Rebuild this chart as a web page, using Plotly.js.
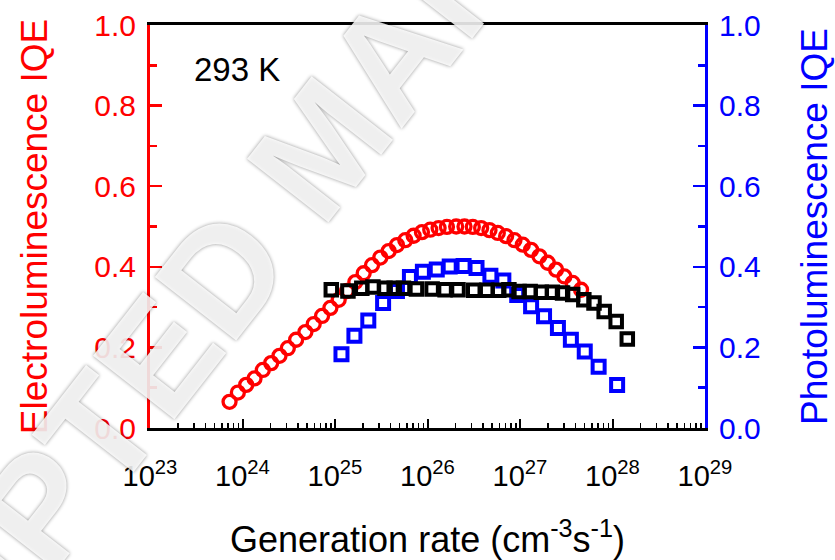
<!DOCTYPE html>
<html>
<head>
<meta charset="utf-8">
<script src="https://cdn.plot.ly/plotly-3.0.1.min.js"></script>
<style>
html,body{margin:0;padding:0;background:#fff;}
#chart{width:835px;height:560px;}
</style>
</head>
<body>
<div id="chart"></div>
<script>
// Electroluminescence IQE (red circles), log10 of generation rate
const elLogG = [23.86, 23.95, 24.04, 24.13, 24.22, 24.31, 24.40, 24.49, 24.58, 24.68,
                24.77, 24.86, 24.95, 25.04, 25.13, 25.22, 25.31, 25.40, 25.49, 25.58,
                25.67, 25.76, 25.85, 25.94, 26.03, 26.12, 26.21, 26.31, 26.40, 26.49,
                26.58, 26.67, 26.76, 26.85, 26.94, 27.03, 27.12, 27.21, 27.30, 27.39,
                27.48, 27.57, 27.66];
const elIQE = [0.065, 0.088, 0.107, 0.123, 0.144, 0.161, 0.179, 0.198, 0.219, 0.238,
               0.258, 0.278, 0.298, 0.318, 0.340, 0.362, 0.384, 0.404, 0.423, 0.439,
               0.454, 0.466, 0.477, 0.486, 0.492, 0.496, 0.499, 0.500, 0.500, 0.499,
               0.496, 0.491, 0.484, 0.476, 0.466, 0.455, 0.442, 0.426, 0.410, 0.393,
               0.376, 0.360, 0.343];

// Photoluminescence IQE (blue squares)
const plLogG = [25.07, 25.21, 25.36, 25.52, 25.67, 25.81, 25.95, 26.10, 26.24, 26.39,
                26.53, 26.68, 26.82, 26.97, 27.12, 27.26, 27.41, 27.55, 27.70, 27.85, 28.05];
const plIQE = [0.183, 0.229, 0.267, 0.310, 0.340, 0.375, 0.388, 0.393, 0.401, 0.402,
               0.397, 0.378, 0.366, 0.330, 0.302, 0.277, 0.248, 0.219, 0.190, 0.152, 0.107];

// Third series (black squares)
const blkLogG = [24.96, 25.14, 25.29, 25.41, 25.54, 25.64, 25.74, 25.88, 26.05, 26.19,
                 26.33, 26.50, 26.64, 26.77, 26.88, 26.99, 27.11, 27.23, 27.35, 27.46,
                 27.57, 27.69, 27.80, 27.91, 28.04, 28.16];
const blkIQE = [0.343, 0.340, 0.347, 0.350, 0.347, 0.347, 0.347, 0.345, 0.345, 0.343,
                0.343, 0.342, 0.342, 0.342, 0.343, 0.339, 0.339, 0.337, 0.337, 0.335,
                0.331, 0.318, 0.310, 0.289, 0.264, 0.221];

// Axis ticks
const decadeExps = [23, 24, 25, 26, 27, 28, 29];
const yTickVals = [0, 0.2, 0.4, 0.6, 0.8, 1.0];

const toG = a => a.map(e => Math.pow(10, e));
const FONT = 'Liberation Sans, Arial, sans-serif';

const majorX = decadeExps.map(e => Math.pow(10, e));
const majorXText = decadeExps.map(e => '10<sup>' + e + '</sup>');
const minorX = [];
decadeExps.slice(0, -1).forEach(e => { for (let k = 2; k <= 9; k++) minorX.push(k * Math.pow(10, e)); });

const traces = [
  { x: toG(elLogG), y: elIQE, type: 'scatter', mode: 'markers', yaxis: 'y',
    marker: { symbol: 'circle-open', size: 13, color: '#ff0000', line: { color: '#ff0000', width: 3.3 } },
    name: 'EL' },
  { x: toG(plLogG), y: plIQE, type: 'scatter', mode: 'markers', yaxis: 'y2',
    marker: { symbol: 'square-open', size: 12, color: '#0000ff', line: { color: '#0000ff', width: 4 } },
    name: 'PL' },
  { x: toG(blkLogG), y: blkIQE, type: 'scatter', mode: 'markers', yaxis: 'y2',
    marker: { symbol: 'square-open', size: 11.5, color: '#000000', line: { color: '#000000', width: 4 } },
    name: 'black' }
];

const layout = {
  width: 835, height: 560,
  margin: { l: 150, r: 130, t: 25, b: 132 },
  paper_bgcolor: '#fff', plot_bgcolor: '#fff',
  showlegend: false,
  font: { family: FONT, color: '#000' },
  xaxis: {
    type: 'log', range: [23, 29],
    tickmode: 'array', tickvals: majorX, ticktext: majorXText,
    ticks: 'inside', ticklen: 9, tickwidth: 2, tickcolor: '#000',
    minor: { tickmode: 'array', tickvals: minorX, ticks: 'inside', ticklen: 5, tickwidth: 1.5, tickcolor: '#000' },
    showline: true, linecolor: '#000', linewidth: 3, mirror: true,
    showgrid: false, zeroline: false,
    tickfont: { family: FONT, size: 29, color: '#000' },
    ticklabelstandoff: 20,
    title: { text: 'Generation rate (cm<sup>-3</sup>s<sup>-1</sup>)', font: { family: FONT, size: 36, color: '#000' }, standoff: 37 }
  },
  yaxis: {
    range: [0, 1], tickmode: 'array', tickvals: yTickVals, tickformat: '.1f',
    ticks: 'inside', ticklen: 12, tickwidth: 2.5, tickcolor: '#ff0000',
    minor: { dtick: 0.1, ticks: 'inside', ticklen: 7, tickwidth: 2.5, tickcolor: '#ff0000' },
    showline: true, linecolor: '#ff0000', linewidth: 3,
    showgrid: false, zeroline: false,
    tickfont: { family: FONT, size: 30, color: '#ff0000' },
    ticklabelstandoff: 5,
    title: { text: 'Electroluminescence IQE', font: { family: FONT, size: 37, color: '#ff0000' }, standoff: 36 }
  },
  yaxis2: {
    overlaying: 'y', side: 'right',
    range: [0, 1], tickmode: 'array', tickvals: yTickVals, tickformat: '.1f',
    ticks: 'inside', ticklen: 12, tickwidth: 2.5, tickcolor: '#0000ff',
    minor: { dtick: 0.1, ticks: 'inside', ticklen: 7, tickwidth: 2.5, tickcolor: '#0000ff' },
    showline: true, linecolor: '#0000ff', linewidth: 3,
    showgrid: false, zeroline: false,
    tickfont: { family: FONT, size: 30, color: '#0000ff' },
    ticklabelstandoff: 5,
    title: { text: 'Photoluminescence IQE', font: { family: FONT, size: 37, color: '#0000ff' }, standoff: 44 }
  },
  annotations: [
    { text: '293 K', xref: 'paper', yref: 'paper', x: 0.075, y: 0.889,
      xanchor: 'left', yanchor: 'middle', showarrow: false,
      font: { family: FONT, size: 33, color: '#000' } },
    { text: 'ACCEPTED MANUSCRIPT', xref: 'paper', yref: 'paper', x: 0.31, y: 0.70,
      xanchor: 'center', yanchor: 'middle', showarrow: false, textangle: -52,
      font: { family: FONT, size: 150, weight: 'bold', color: 'rgba(255,255,255,0.85)',
              shadow: '0px 0px 4px rgba(0,0,0,0.5)' } }
  ]
};

Plotly.newPlot('chart', traces, layout, { staticPlot: true, displayModeBar: false });
</script>
</body>
</html>
